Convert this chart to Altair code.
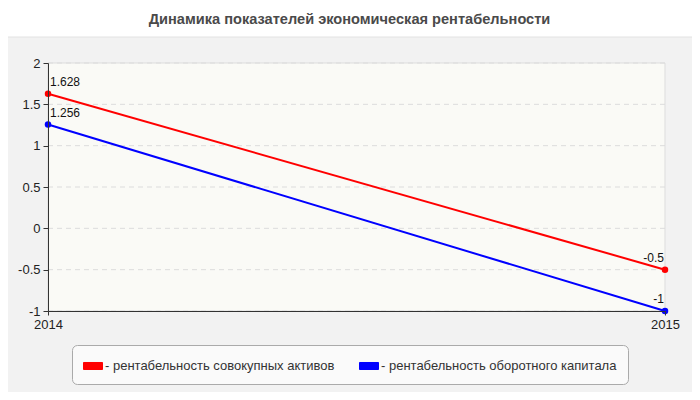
import altair as alt
import pandas as pd

# ---- data ----
years = [2014, 2015]
assets = [1.628, -0.5]
capital = [1.256, -1.0]
series_names = ["рентабельность совокупных активов", "рентабельность оборотного капитала"]
series_colors = ["#ff0000", "#0000ff"]
y_ticks = [-1, -0.5, 0, 0.5, 1, 1.5, 2]
x_ticks = [2014, 2015]
title_text = "Динамика показателей экономическая рентабельности"

rows = []
for name, vals in zip(series_names, [assets, capital]):
    for yr, v in zip(years, vals):
        rows.append({"year": yr, "value": v, "series": name, "label": "%g" % v})
df = pd.DataFrame(rows)
grid_df = pd.DataFrame({"value": y_ticks})

W, H = 617, 248
FONT = "Liberation Sans"

xs = alt.Scale(domain=[2014, 2015], nice=False, zero=False)
ys = alt.Scale(domain=[-1, 2], nice=False, zero=False)
x_enc = alt.X("year:Q", scale=xs, axis=alt.Axis(values=x_ticks, format="d", title=None,
                                                  tickSize=4, labelPadding=3, grid=False,
                                                  labelFlush=False, zindex=1))
y_enc = alt.Y("value:Q", scale=ys, axis=alt.Axis(values=y_ticks, labelExpr="toString(datum.value)",
                                                   title=None, tickSize=5, labelPadding=3,
                                                   grid=False, labelFlush=False, zindex=1))

legend = alt.Legend(
    title=None, orient="none", legendX=24, legendY=282, direction="horizontal",
    fillColor="#fafafa", strokeColor="#aaaaaa", cornerRadius=5, padding=11,
    symbolType="M-1,-0.37L1,-0.37L1,0.37L-1,0.37Z", symbolSize=361,
    symbolStrokeColor="#999999", symbolStrokeWidth=1, symbolOpacity=1,
    labelFont=FONT, labelFontSize=13, labelColor="#333333",
    labelExpr="'- ' + datum.label", labelOffset=2, columnPadding=22,
    labelLimit=400)
cscale = alt.Scale(domain=series_names, range=series_colors)

panel = alt.Chart(alt.Data(values=[{}])).mark_rect(
    fill="#f2f2f2", stroke="#e2e2e2", cornerRadius=6
).encode(x=alt.value(-46), x2=alt.value(650), y=alt.value(-26), y2=alt.value(335))

plotbg = alt.Chart(alt.Data(values=[{}])).mark_rect(
    fill="#fafaf6", stroke="#dddddd", strokeWidth=1
).encode(x=alt.value(0), x2=alt.value(W), y=alt.value(0), y2=alt.value(H))

grid = alt.Chart(grid_df).mark_rule(color="#dcdcdc", strokeDash=[5, 4], strokeWidth=1).encode(y=y_enc)

base = alt.Chart(df)

line = base.mark_line(strokeWidth=2).encode(
    x=x_enc, y=y_enc,
    color=alt.Color("series:N", scale=cscale, legend=legend),
)

points = base.mark_point(filled=True, size=42, opacity=1).encode(
    x=x_enc, y=y_enc,
    color=alt.Color("series:N", scale=cscale, legend=legend),
)

text_l = base.transform_filter(alt.datum.year == years[0]).mark_text(
    align="left", baseline="alphabetic", dx=2, dy=-8, font=FONT, fontSize=12, color="#111111"
).encode(x=x_enc, y=y_enc, text="label:N")

text_r = base.transform_filter(alt.datum.year == years[1]).mark_text(
    align="right", baseline="alphabetic", dx=-1, dy=-8, font=FONT, fontSize=12, color="#111111"
).encode(x=x_enc, y=y_enc, text="label:N")

chart = alt.layer(panel, plotbg, grid, line, points, text_l, text_r).properties(
    width=W, height=H,
    title=alt.Title(title_text, font=FONT, fontSize=14.6, fontWeight="bold", color="#4a4a4a",
                    anchor="middle", offset=10, dx=-7),
    autosize=alt.AutoSizeParams(type="none"),
    padding={"left": 40, "top": 55, "right": 27, "bottom": 81},
    background="white",
).configure_view(stroke=None).configure_axis(
    domainColor="#333333", tickColor="#333333", labelColor="#222222",
    labelFont=FONT, labelFontSize=13
)

chart.save("out.html", embed_options={"renderer": "svg", "actions": False})
